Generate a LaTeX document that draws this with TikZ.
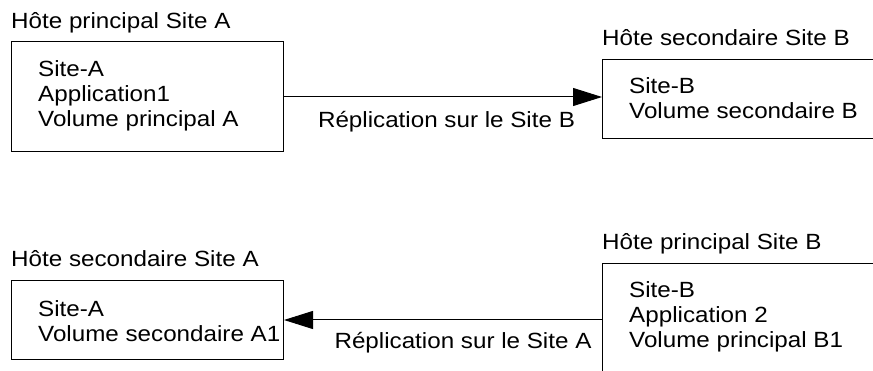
\documentclass[tikz,border=0pt]{standalone}
\usepackage{fontspec}
\setmainfont[FakeStretch=1.1]{Liberation Sans}
\usepackage{tikz}
\usetikzlibrary{arrows.meta,positioning,calc}

\tikzset{
  hostbox/.style={draw, line width=1pt, rectangle, inner sep=0pt, anchor=north west},
  boxtext/.style={align=left, inner sep=0pt, anchor=north west, font=\fontsize{22}{25}\selectfont},
  hosttitle/.style={inner sep=0pt, anchor=base west, font=\fontsize{22}{25}\selectfont},
  replarrow/.style={line width=1pt, -{Triangle[length=29pt,width=18pt]}},
  repllabel/.style={inner sep=0pt, font=\fontsize{22}{25}\selectfont},
}

\begin{document}
\begin{tikzpicture}[x=1pt, y=-1pt]
\useasboundingbox (0,0) rectangle (873,371);
\clip (0,0) rectangle (873,371);

% Site A -> Site B
\node[hostbox, minimum width=272pt, minimum height=110pt] (primA) at (11,41.5) {};
\node[hosttitle] (titlePrimA) at ($(primA.north west)+(0,-12.5)$) {Hôte principal Site A};
\node[boxtext] (textPrimA) at ($(primA.north west)+(27,19)$) {Site-A\\Application1\\Volume principal A};

\node[hostbox, minimum width=300pt, minimum height=79pt] (secB) at (602,59) {};
\node[hosttitle] (titleSecB) at ($(secB.north west)+(0,-13)$) {Hôte secondaire Site B};
\node[boxtext] (textSecB) at ($(secB.north west)+(27,18.5)$) {Site-B\\Volume secondaire B};

\draw[replarrow] (primA.east) -- (primA.east -| secB.west)
  node[repllabel, midway, below=13.5pt, xshift=3.5pt] (replB) {Réplication sur le Site B};

% Site B -> Site A
\node[hostbox, minimum width=272pt, minimum height=79pt] (secA) at (11,280) {};
\node[hosttitle] (titleSecA) at ($(secA.north west)+(0,-13)$) {Hôte secondaire Site A};
\node[boxtext] (textSecA) at ($(secA.north west)+(27,20.5)$) {Site-A\\Volume secondaire A1};

\node[hostbox, minimum width=300pt, minimum height=120pt] (primB) at (602,263) {};
\node[hosttitle] (titlePrimB) at ($(primB.north west)+(0,-13)$) {Hôte principal Site B};
\node[boxtext] (textPrimB) at ($(primB.north west)+(27,18.5)$) {Site-B\\Application 2\\Volume principal B1};

\draw[replarrow] (secA.east -| primB.west) -- (secA.east)
  node[repllabel, midway, below=11.5pt, xshift=20pt] (replA) {Réplication sur le Site A};
\end{tikzpicture}
\end{document}
